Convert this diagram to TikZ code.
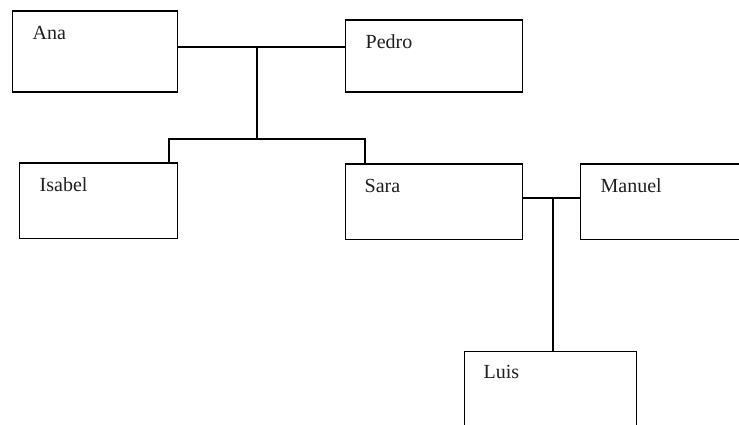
\documentclass[tikz,border=0pt]{standalone}
\usepackage{fontspec}
\setmainfont{Liberation Serif}
\begin{document}
\begin{tikzpicture}[x=1pt,y=-1pt,
  box/.style={draw=black,line width=1.5pt,rectangle,inner sep=0pt,anchor=north west,fill=white},
  lbl/.style={anchor=base west,inner sep=0pt,font=\fontsize{20}{24}\selectfont,text=black!88},
  conn/.style={draw=black,line width=1.5pt}]
\useasboundingbox[fill=white] (0,0) rectangle (739,425);
\begin{scope}
\clip (0,0) rectangle (739,425);
% boxes
\node[box,minimum width=165pt,minimum height=81pt] (ana) at (11.5,10.5) {};
\node[box,minimum width=177pt,minimum height=72pt] (pedro) at (344.5,19.5) {};
\node[box,minimum width=158pt,minimum height=75pt] (isabel) at (18.5,162.5) {};
\node[box,minimum width=177pt,minimum height=75pt] (sara) at (344.5,163.5) {};
\node[box,minimum width=200pt,minimum height=75pt] (manuel) at (579.5,163.5) {};
\node[box,minimum width=172pt,minimum height=100pt] (luis) at (463.5,350.5) {};
% labels
\node[lbl] (tana) at ([shift={(21pt,-29pt)}]ana.north west) {Ana};
\node[lbl] (tpedro) at ([shift={(21pt,-29pt)}]pedro.north west) {Pedro};
\node[lbl] (tisabel) at ([shift={(21pt,-29pt)}]isabel.north west) {Isabel};
\node[lbl] (tsara) at ([shift={(20pt,-29pt)}]sara.north west) {Sara};
\node[lbl] (tmanuel) at ([shift={(21pt,-29pt)}]manuel.north west) {Manuel};
\node[lbl] (tluis) at ([shift={(20pt,-28pt)}]luis.north west) {Luis};
% junctions
\coordinate (j1) at (257,47);
\coordinate (j2) at (257,139);
\coordinate (j3) at (553,198);
% connectors
\draw[conn] (ana.east |- j1) -- (pedro.west |- j1);
\draw[conn] (j1) -- (j2);
\draw[conn] (isabel.north -| 169,0) -- (169,139) -- (365,139) -- (sara.north -| 365,0);
\draw[conn] (sara.east |- j3) -- (manuel.west |- j3);
\draw[conn] (j3) -- (luis.north -| j3);
\end{scope}
\end{tikzpicture}
\end{document}
